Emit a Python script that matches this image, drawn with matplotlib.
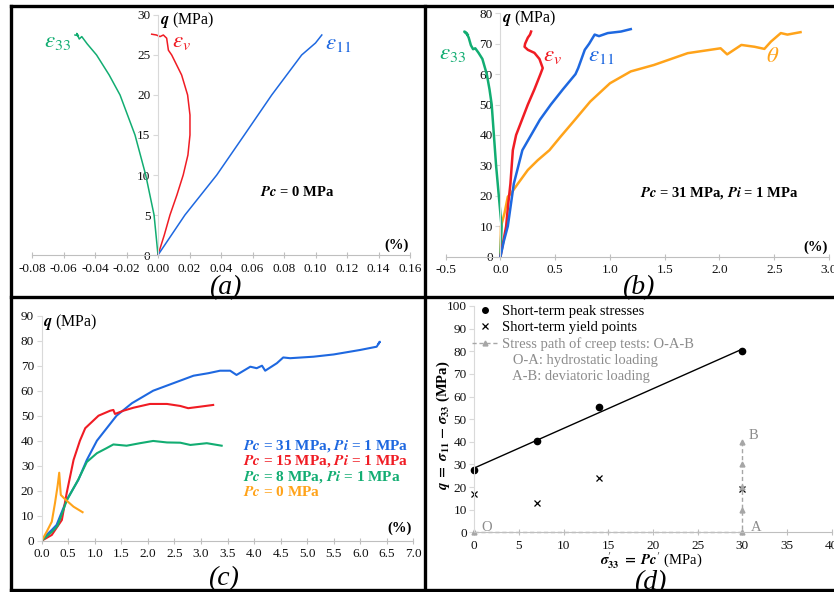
import matplotlib
matplotlib.use('Agg')
import matplotlib.pyplot as plt
import numpy as np
from matplotlib.lines import Line2D

plt.rcParams['font.family'] = ['Liberation Serif', 'DejaVu Serif']
plt.rcParams['mathtext.fontset'] = 'stix'
plt.rcParams['axes.unicode_minus'] = False

# ---------------- data ----------------
# panel (a): Pc = 0 MPa
a_e33_x = [0, -0.0025, -0.0078, -0.0146, -0.0241, -0.031, -0.039, -0.045, -0.0484, -0.050, -0.0516, -0.0505, -0.0527]
a_e33_q = [0, 5, 10, 15, 20, 22.5, 25, 26.4, 27.3, 27.0, 27.7, 27.4, 27.5]
a_ev_x = [0, 0.004, 0.0076, 0.012, 0.016, 0.019, 0.0203, 0.0203, 0.0188, 0.015, 0.0087, 0.0066, 0.0055, 0.0034, 0.0013, -0.001, -0.004]
a_ev_q = [0, 2.5, 5, 7.5, 10, 12.5, 15, 17.5, 20, 22.5, 25, 25.6, 27.1, 27.5, 27.3, 27.5, 27.6]
a_e11_x = [0, 0.0171, 0.0373, 0.0548, 0.0722, 0.0912, 0.100, 0.102, 0.104]
a_e11_q = [0, 5, 10, 15, 20, 25, 26.5, 27.0, 27.5]
a_xticks = [-0.08, -0.06, -0.04, -0.02, 0.00, 0.02, 0.04, 0.06, 0.08, 0.10, 0.12, 0.14, 0.16]
a_yticks = [0, 5, 10, 15, 20, 25, 30]

# panel (b): Pc = 31 MPa, Pi = 1 MPa
b_e33_x = [0, 0.01, -0.015, -0.04, -0.06, -0.08, -0.10, -0.125, -0.165, -0.20, -0.23, -0.25, -0.27, -0.29, -0.31, -0.33, -0.30]
b_e33_q = [0, 10, 20, 30, 40, 50, 55, 60, 65, 67, 68.5, 68.2, 69.5, 72, 73.5, 74, 73]
b_ev_x = [0, 0.052, 0.07, 0.091, 0.113, 0.143, 0.25, 0.31, 0.365, 0.386, 0.356, 0.31, 0.25, 0.22, 0.225, 0.25, 0.27, 0.28]
b_ev_q = [0, 10, 17, 24, 35, 40, 50, 55, 60, 62, 65, 67, 68, 69, 70, 72, 73, 74]
b_e11_x = [0, 0.03, 0.067, 0.122, 0.2, 0.28, 0.36, 0.46, 0.57, 0.685, 0.71, 0.74, 0.77, 0.81, 0.86, 0.90, 0.98, 1.10, 1.19]
b_e11_q = [0, 5, 10, 24, 35, 40, 45, 50, 55, 60, 62, 65, 68, 70, 73, 72.5, 73.5, 74, 74.8]
b_th_x = [0, 0.005, 0.037, 0.067, 0.098, 0.159, 0.25, 0.34, 0.447, 0.55, 0.68, 0.82, 1.0, 1.19, 1.4, 1.71, 2.01, 2.07, 2.20, 2.32, 2.41, 2.47, 2.56, 2.62, 2.74]
b_th_q = [0, 10, 14.3, 19.7, 20.9, 24, 28.5, 31.7, 35, 39.5, 45, 51, 57, 60.9, 63, 66.9, 68.5, 66.5, 69.6, 69, 68.3, 70.7, 73.5, 73, 73.8]
b_xticks = [-0.5, 0.0, 0.5, 1.0, 1.5, 2.0, 2.5, 3.0]
b_yticks = [0, 10, 20, 30, 40, 50, 60, 70, 80]

# panel (c): deviatoric stress vs axial strain
c31_x = [0, 0.1, 0.19, 0.28, 0.47, 0.69, 0.85, 1.04, 1.41, 1.7, 2.1, 2.48, 2.86, 3.14, 3.36, 3.55, 3.67, 3.93, 4.05, 4.15, 4.21, 4.43, 4.55, 4.68, 5.12, 5.5, 6.0, 6.31, 6.37, 6.35]
c31_q = [0, 2.5, 4.3, 6.3, 16.3, 24.3, 32.3, 40, 50, 55, 60, 63, 66, 67, 68, 68, 66.3, 69.6, 69, 70, 68, 71, 73.3, 73, 73.6, 74.5, 76.3, 77.6, 79.6, 79]
c15_x = [0, 0.19, 0.38, 0.47, 0.6, 0.72, 0.82, 1.07, 1.29, 1.35, 1.38, 1.54, 1.73, 2.04, 2.36, 2.61, 2.76, 2.98, 3.23]
c15_q = [0, 2.3, 8.3, 19, 32.3, 40, 45, 50, 52, 52.3, 50.7, 52, 53.2, 54.7, 54.7, 53.9, 53, 53.6, 54.3]
c8_x = [0, 0.19, 0.3, 0.47, 0.69, 0.85, 1.04, 1.22, 1.35, 1.6, 1.85, 2.1, 2.36, 2.61, 2.8, 3.11, 3.39]
c8_q = [0, 3.5, 6, 16, 24.5, 31.5, 35, 37, 38.5, 38, 39, 39.9, 39.3, 39.2, 38.3, 39, 38]
c0_x = [0, 0.094, 0.19, 0.25, 0.3, 0.33, 0.35, 0.36, 0.44, 0.6, 0.77]
c0_q = [0, 3.6, 7.6, 15, 22, 27.2, 21, 18.3, 16.6, 13.6, 11.4]
c_xticks = [0.0, 0.5, 1.0, 1.5, 2.0, 2.5, 3.0, 3.5, 4.0, 4.5, 5.0, 5.5, 6.0, 6.5, 7.0]
c_yticks = [0, 10, 20, 30, 40, 50, 60, 70, 80, 90]
c_labels = [r'$\mathbfit{Pc}$ = 31 MPa, $\mathbfit{Pi}$ = 1 MPa',
            r'$\mathbfit{Pc}$ = 15 MPa, $\mathbfit{Pi}$ = 1 MPa',
            r'$\mathbfit{Pc}$ = 8 MPa, $\mathbfit{Pi}$ = 1 MPa',
            r'$\mathbfit{Pc}$ = 0 MPa']

# panel (d): q vs effective confining pressure
d_peak_x = [0, 7, 14, 30]
d_peak_q = [27.5, 40.3, 55.2, 80]
d_yield_x = [0, 7, 14, 30]
d_yield_q = [17, 13, 24, 19]
d_path_x = [0, 30, 30]
d_path_q = [0, 0, 40]
d_pathmk_x = [0, 30, 30, 30, 30, 30]
d_pathmk_q = [0, 0, 10, 20, 30, 40]
d_xticks = [0, 5, 10, 15, 20, 25, 30, 35, 40]
d_yticks = [0, 10, 20, 30, 40, 50, 60, 70, 80, 90, 100]
d_labels = ['Short-term peak stresses', 'Short-term yield points',
            'Stress path of creep tests: O-A-B',
            '   O-A: hydrostatic loading', '   A-B: deviatoric loading']

GREEN = '#12ad72'
RED = '#f01c24'
BLUE = '#1e68e0'
ORANGE = '#ffa31a'
GRAY = '#8c8c8c'

W, H = 834, 592
fig = plt.figure(figsize=(W / 100, H / 100), dpi=100)
fig.patch.set_facecolor('white')


def add_ax(x0, x1, ytop, ybot, xlim, ylim):
    ax = fig.add_axes([x0 / W, 1 - ybot / H, (x1 - x0) / W, (ybot - ytop) / H])
    ax.set_xlim(*xlim)
    ax.set_ylim(*ylim)
    ax.patch.set_visible(False)
    for s in ['top', 'right']:
        ax.spines[s].set_visible(False)
    ax.spines['left'].set_color('#d9d9d9')
    ax.spines['bottom'].set_color('#bfbfbf')
    ax.spines['left'].set_linewidth(0.8)
    ax.spines['bottom'].set_linewidth(0.8)
    ax.tick_params(axis='x', direction='inout', length=5, width=0.8, color='#bfbfbf',
                   labelsize=9.5, pad=3, labelcolor='#111111')
    ax.tick_params(axis='y', direction='out', length=3.5, width=0.8, color='#d9d9d9',
                   labelsize=9.5, pad=2, labelcolor='#111111')
    return ax


def ftext(x, y, s, **kw):
    return fig.text(x / W, 1 - y / H, s, **kw)


# ---------------- panel (a) ----------------
ax = add_ax(32, 410, 15, 255, (-0.08, 0.16), (0, 30))
ax.spines['left'].set_position(('data', 0))
ax.set_xticks(a_xticks)
ax.set_xticklabels([f'{v:.2f}' for v in a_xticks])
ax.set_yticks(a_yticks)
ax.plot(a_e33_x, a_e33_q, color=GREEN, lw=1.1)
ax.plot(a_ev_x, a_ev_q, color=RED, lw=1.1)
ax.plot(a_e11_x, a_e11_q, color=BLUE, lw=1.1)
ftext(58, 42, r'$\varepsilon_{33}$', color=GREEN, fontsize=16.5, ha='center', va='center')
ftext(172, 42, r'$\varepsilon_{v}$', color=RED, fontsize=16.5, ha='left', va='center')
ftext(325, 43, r'$\varepsilon_{11}$', color=BLUE, fontsize=16.5, ha='left', va='center')
ftext(260, 192, r'$\mathbfit{Pc}$ = 0 MPa', fontsize=10.5, fontweight='bold', ha='left', va='center')
ftext(397, 245, '(%)', fontsize=10.5, fontweight='bold', ha='center', va='center')
ftext(160, 20, r'$\mathbfit{q}$ (MPa)', fontsize=11.5, ha='left', va='center')
ftext(225, 288, '(a)', fontsize=20, style='italic', ha='center', va='center')

# ---------------- panel (b) ----------------
ax = add_ax(445.7, 829, 13.3, 256.7, (-0.5, 3.0), (0, 80))
ax.spines['left'].set_position(('data', 0))
ax.set_xticks(b_xticks)
ax.set_xticklabels([f'{v:.1f}' for v in b_xticks])
ax.set_yticks(b_yticks)
ax.plot(b_th_x, b_th_q, color=ORANGE, lw=1.8)
ax.plot(b_e33_x, b_e33_q, color=GREEN, lw=1.8)
ax.plot(b_ev_x, b_ev_q, color=RED, lw=1.8)
ax.plot(b_e11_x, b_e11_q, color=BLUE, lw=1.8)
ftext(453, 53, r'$\varepsilon_{33}$', color=GREEN, fontsize=16.5, ha='center', va='center')
ftext(543, 55, r'$\varepsilon_{v}$', color=RED, fontsize=16.5, ha='left', va='center')
ftext(588, 55, r'$\varepsilon_{11}$', color=BLUE, fontsize=16.5, ha='left', va='center')
ftext(773, 57, r'$\theta$', color=ORANGE, fontsize=16.5, ha='center', va='center')
ftext(640, 193, r'$\mathbfit{Pc}$ = 31 MPa, $\mathbfit{Pi}$ = 1 MPa', fontsize=10.5,
      fontweight='bold', ha='left', va='center')
ftext(816, 247, '(%)', fontsize=10.5, fontweight='bold', ha='center', va='center')
ftext(502, 18, r'$\mathbfit{q}$ (MPa)', fontsize=11.5, ha='left', va='center')
ftext(638, 288, '(b)', fontsize=20, style='italic', ha='center', va='center')

# ---------------- panel (c) ----------------
ax = add_ax(41.7, 413.3, 315.7, 540.7, (0, 7.0), (0, 90))
ax.set_xticks(c_xticks)
ax.set_xticklabels([f'{v:.1f}' for v in c_xticks])
ax.set_yticks(c_yticks)
ax.plot(c31_x, c31_q, color=BLUE, lw=1.5)
ax.plot(c15_x, c15_q, color=RED, lw=1.5)
ax.plot(c8_x, c8_q, color=GREEN, lw=1.5)
ax.plot(c0_x, c0_q, color=ORANGE, lw=1.5)
for lab, col, yy in zip(c_labels, [BLUE, RED, GREEN, ORANGE], [445.7, 460.7, 476.7, 491.7]):
    ftext(243, yy, lab, color=col, fontsize=11, fontweight='bold', ha='left', va='center')
ftext(43, 321.7, r'$\mathbfit{q}$ (MPa)', fontsize=11.5, ha='left', va='center')
ftext(400, 528.3, '(%)', fontsize=10.5, fontweight='bold', ha='center', va='center')
ftext(223, 579, '(c)', fontsize=20, style='italic', ha='center', va='center')

# ---------------- panel (d) ----------------
ax = add_ax(474.3, 831.7, 306, 532.3, (0, 40), (0, 100))
ax.set_xticks(d_xticks)
ax.set_yticks(d_yticks)
ax.set_xlim(0, 40)
coef = np.polyfit(d_peak_x, d_peak_q, 1)
fit_x = np.array([min(d_peak_x), max(d_peak_x)])
ax.plot(fit_x, np.polyval(coef, fit_x), color='k', lw=1.0)
ax.plot(d_peak_x, d_peak_q, 'o', color='k', ms=4.5, clip_on=False)
ax.plot(d_yield_x, d_yield_q, 'x', color='k', ms=4.5, mew=0.9, clip_on=False)
ax.plot(d_path_x, d_path_q, ls='--', color='#a6a6a6', lw=1.0, dashes=(3, 2), clip_on=False)
ax.plot(d_pathmk_x, d_pathmk_q, '^', color='#a6a6a6', ms=3.5, clip_on=False)
ax.text(0.75, 2.2, 'O', color=GRAY, fontsize=10.5, ha='left', va='center')
ax.text(30.9, 2.2, 'A', color=GRAY, fontsize=10.5, ha='left', va='center')
ax.text(30.7, 42.7, 'B', color=GRAY, fontsize=10.5, ha='left', va='center')

handles = [Line2D([], [], marker='o', ls='none', color='k', ms=4),
           Line2D([], [], marker='x', ls='none', color='k', ms=4, mew=0.9),
           Line2D([], [], marker='^', ls='--', color='#a6a6a6', ms=3.5, lw=1.0, dashes=(3, 2)),
           Line2D([], [], ls='none'),
           Line2D([], [], ls='none')]
leg = ax.legend(handles, d_labels, loc='upper left', bbox_to_anchor=(472 / W, 1 - 305 / H),
                bbox_transform=fig.transFigure, frameon=False, fontsize=10.5,
                handlelength=1.8, handletextpad=0.25, labelspacing=0.2, borderpad=0,
                borderaxespad=0)
for t, c in zip(leg.get_texts(), ['k', 'k', GRAY, GRAY, GRAY]):
    t.set_color(c)

ftext(443, 425, r'$\mathbfit{q}\ \mathbf{=}\ \mathbfit{\sigma}_{\mathbf{11}}\ \mathbf{-}\ \mathbfit{\sigma}_{\mathbf{33}}$ (MPa)',
      fontsize=10.5, fontweight='bold', rotation=90, ha='center', va='center')
ftext(651, 561, r"$\mathbfit{\sigma}^{\prime}_{\mathbf{33}}\ \mathbf{=}\ \mathbfit{Pc}^{\prime}$ (MPa)",
      fontsize=10.5, ha='center', va='center')
ftext(650, 583, '(d)', fontsize=20, style='italic', ha='center', va='center')

# ---------------- panel borders ----------------
def border(x0, y0, x1, y1):
    fig.add_artist(Line2D([x0 / W, x1 / W], [1 - y0 / H, 1 - y1 / H],
                          transform=fig.transFigure, color='k', lw=2.4, solid_capstyle='projecting'))

border(11, 6, 834, 6)
border(11, 6, 11, 590)
border(11, 590, 834, 590)
border(11, 297, 834, 297)
border(425, 6, 425, 590)

fig.savefig('out.png', dpi=100)
